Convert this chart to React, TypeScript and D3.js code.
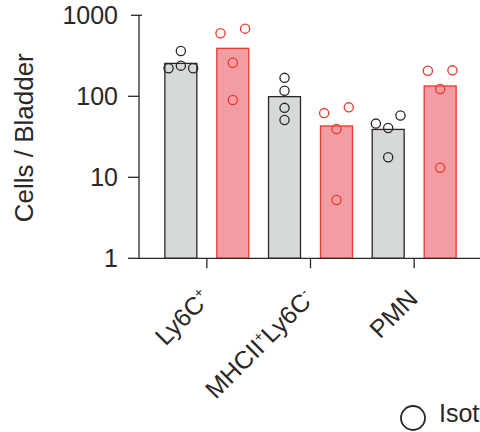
import React, { useRef, useEffect } from "react";
import * as d3 from "d3";

// cell populations on the x axis ("+"/"-" are drawn as superscripts)
export const groups = ["Ly6C+", "MHCII+Ly6C-", "PMN"];
export const series = ["Isotype", "Treated"];

// bar heights (means)
export const isotypeMeans = [255, 99, 39];
export const treatedMeans = [391, 43, 134];

// individual animals
export const isotypePoints = [
  [363, 239, 222, 222],
  [169, 117, 72, 51],
  [58, 46, 40.6, 17.7],
];
export const treatedPoints = [
  [684, 600, 260, 90],
  [73, 62, 39.5, 5.25],
  [209, 207, 123, 13.1],
];

export const yTicks = [1, 10, 100, 1000];

const ink = "#2b2724";
const red = "#e8392b";
const fills = ["#d5d9d8", "#f29ca4"];
const strokes = [ink, red];
const font = "'Liberation Sans', Arial, Helvetica, sans-serif";

// simple row-based scatter: points closer than a circle get spread left/right
function swarm(values: number[], y: (v: number) => number, r: number) {
  const sorted = values.map((v, i) => ({ v, i })).sort((a, b) => b.v - a.v);
  const rows: { v: number; i: number }[][] = [];
  sorted.forEach((p) => {
    const row = rows[rows.length - 1];
    if (row && Math.abs(y(p.v) - y(row[0].v)) < 2 * r) row.push(p);
    else rows.push([p]);
  });
  const slots: number[] = new Array(values.length).fill(0);
  rows.forEach((row) => {
    const asc = row.slice().sort((a, b) => a.v - b.v);
    const order = asc.length === 1 ? [0] : asc.length === 2 ? [-1, 1] : [-1, 1, 0];
    asc.forEach((p, k) => (slots[p.i] = order[k] ?? 0));
  });
  return slots;
}

const BarChart = () => {
  const ref = useRef<SVGSVGElement>(null);

  useEffect(() => {
    const width = 480;
    const height = 432;
    const axisX = 139;

    const svg = d3.select(ref.current).attr("width", width).attr("height", height);
    svg.selectAll("*").remove();

    const y = d3.scaleLog().domain([1, 1000]).range([258.3, 15.3]);
    const x0 = d3.scaleBand().domain(groups).range([155, 466]);
    const x1 = d3
      .scaleBand()
      .domain(series)
      .range([0, x0.bandwidth()])
      .paddingInner(0.385)
      .paddingOuter(0.19);

    const means = [isotypeMeans, treatedMeans];
    const points = [isotypePoints, treatedPoints];

    // bars
    series.forEach((s, si) => {
      svg
        .append("g")
        .selectAll("rect")
        .data(means[si])
        .enter()
        .append("rect")
        .attr("x", (d, i) => x0(groups[i])! + x1(s)!)
        .attr("y", (d) => y(d))
        .attr("width", x1.bandwidth())
        .attr("height", (d) => y(1) - y(d))
        .attr("fill", fills[si])
        .attr("stroke", strokes[si])
        .attr("stroke-width", 1.3);
    });

    // dots
    const r = 4.6;
    series.forEach((s, si) => {
      points[si].forEach((vals, gi) => {
        const cx = x0(groups[gi])! + x1(s)! + x1.bandwidth() / 2;
        const slots = swarm(vals, y, r + 0.7);
        svg
          .append("g")
          .selectAll("circle")
          .data(vals)
          .enter()
          .append("circle")
          .attr("cx", (d, i) => cx + slots[i] * 12.3)
          .attr("cy", (d) => y(d))
          .attr("r", r)
          .attr("fill", "none")
          .attr("stroke", strokes[si])
          .attr("stroke-width", 1.3);
      });
    });

    // stray dash at the top of the first group
    svg
      .append("line")
      .attr("x1", x0(groups[0])! - 24)
      .attr("x2", x0(groups[0])! - 13)
      .attr("y1", y(1000))
      .attr("y2", y(1000))
      .attr("stroke", ink)
      .attr("stroke-width", 1.3);

    // y axis
    svg
      .append("line")
      .attr("x1", axisX)
      .attr("x2", axisX)
      .attr("y1", y(1000))
      .attr("y2", y(1))
      .attr("stroke", ink)
      .attr("stroke-width", 1.3);
    yTicks.forEach((t) => {
      if (t < 1000) {
        svg
          .append("line")
          .attr("x1", axisX - 11)
          .attr("x2", axisX)
          .attr("y1", y(t))
          .attr("y2", y(t))
          .attr("stroke", ink)
          .attr("stroke-width", 1.3);
      }
      svg
        .append("text")
        .attr("x", axisX - 21)
        .attr("y", y(t))
        .attr("dy", "0.35em")
        .attr("text-anchor", "end")
        .style("font-family", font)
        .style("font-size", "25px")
        .attr("fill", ink)
        .text(d3.format("d")(t));
    });

    svg
      .append("text")
      .attr("transform", `translate(33, ${(y(1) + y(1000)) / 2 + 1}) rotate(-90)`)
      .attr("text-anchor", "middle")
      .style("font-family", font)
      .style("font-size", "26px")
      .attr("fill", ink)
      .text("Cells / Bladder");

    // x axis
    svg
      .append("line")
      .attr("x1", axisX)
      .attr("x2", width + 5)
      .attr("y1", y(1))
      .attr("y2", y(1))
      .attr("stroke", ink)
      .attr("stroke-width", 1.3);

    groups.forEach((g) => {
      const cx = x0(g)! + x0.bandwidth() / 2;
      svg
        .append("line")
        .attr("x1", cx)
        .attr("x2", cx)
        .attr("y1", y(1))
        .attr("y2", y(1) + 10)
        .attr("stroke", ink)
        .attr("stroke-width", 1.3);

      const label = svg
        .append("text")
        .attr("transform", `translate(${cx + 5}, ${y(1) + 42}) rotate(-45)`)
        .attr("text-anchor", "end")
        .style("font-family", font)
        .style("font-size", "25px")
        .attr("fill", ink);

      let shift = 0;
      g.split(/([+-])/)
        .filter((p) => p !== "")
        .forEach((p) => {
          const sup = p === "+" || p === "-";
          const dy = sup ? -10 - shift : -shift;
          shift = sup ? -10 : 0;
          label
            .append("tspan")
            .attr("dy", dy)
            .style("font-size", sup ? "14px" : "25px")
            .text(p);
        });
    });

    // legend (cut at the right edge like the original)
    svg
      .append("circle")
      .attr("cx", 413)
      .attr("cy", 418)
      .attr("r", 12)
      .attr("fill", "none")
      .attr("stroke", ink)
      .attr("stroke-width", 1.8);
    svg
      .append("text")
      .attr("x", 439)
      .attr("y", 422)
      .style("font-family", font)
      .style("font-size", "25px")
      .attr("fill", ink)
      .text(series[0]);
  }, []);

  return (
    <svg
      ref={ref}
      style={{ position: "absolute", left: 0, top: 0, display: "block" }}
    ></svg>
  );
};

export default function App() {
  return <BarChart />;
}
